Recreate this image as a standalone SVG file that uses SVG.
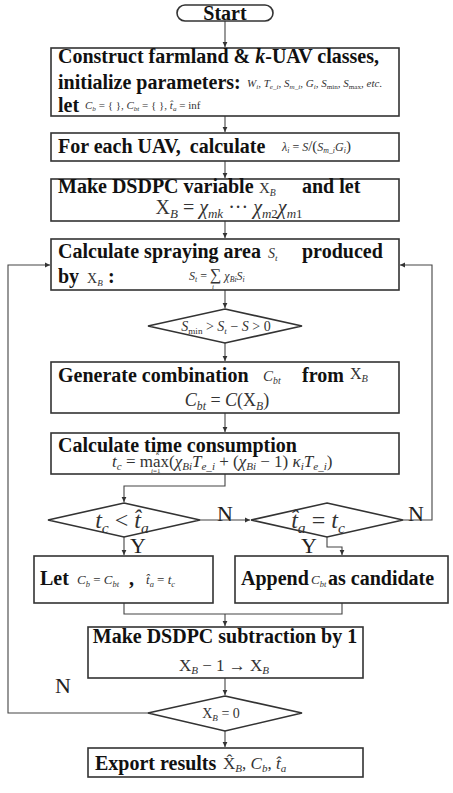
<svg xmlns="http://www.w3.org/2000/svg" width="453" height="793" viewBox="0 0 453 793">
<defs>
<marker id="ah" markerWidth="6" markerHeight="6" refX="5" refY="3" orient="auto" markerUnits="userSpaceOnUse"><path d="M0,0.6 L5,3 L0,5.4 Z" fill="#333"/></marker>
<style>
.box{fill:#fff;stroke:#333;stroke-width:1.6}
.ln{fill:none;stroke:#444;stroke-width:1.1}
.b{font-family:"Liberation Serif","Times New Roman",serif;font-weight:bold;font-size:20px;fill:#111}
.m{font-family:"Liberation Serif","Times New Roman",serif;font-style:italic;fill:#333}
.u{font-style:normal}
.s{font-size:65%;baseline-shift:-0.3em}
.yn{font-family:"Liberation Serif","Times New Roman",serif;font-size:22px;fill:#222}
</style>
</defs>
<rect width="453" height="793" fill="#fff"/>

<g id="connectors">
<path class="ln" d="M225,21 V47" marker-end="url(#ah)"/>
<path class="ln" d="M225,116 V132" marker-end="url(#ah)"/>
<path class="ln" d="M225,161 V178" marker-end="url(#ah)"/>
<path class="ln" d="M225,221 V238" marker-end="url(#ah)"/>
<path class="ln" d="M225,290 V308" marker-end="url(#ah)"/>
<path class="ln" d="M225,343 V361" marker-end="url(#ah)"/>
<path class="ln" d="M225,413 V432" marker-end="url(#ah)"/>
<path class="ln" d="M225,474 V486 H124 V502" marker-end="url(#ah)"/>
<path class="ln" d="M200,520 H250" marker-end="url(#ah)"/>
<path class="ln" d="M403,520 H432 V265 H400" marker-end="url(#ah)"/>
<path class="ln" d="M124,537 V555" marker-end="url(#ah)"/>
<path class="ln" d="M327,537 V547 H342 V555" marker-end="url(#ah)"/>
<path class="ln" d="M124,603 V614 H342 V603"/>
<path class="ln" d="M225,614 V626" marker-end="url(#ah)"/>
<path class="ln" d="M225,678 V695" marker-end="url(#ah)"/>
<path class="ln" d="M149,713 H8 V265 H50" marker-end="url(#ah)"/>
<path class="ln" d="M225,731 V747" marker-end="url(#ah)"/>
<text class="yn" x="217" y="521">N</text>
<text class="yn" x="408" y="521">N</text>
<text class="yn" x="130" y="553">Y</text>
<text class="yn" x="301" y="553">Y</text>
<text class="yn" x="55" y="693">N</text>
</g>

<g id="start">
<rect class="box" x="177" y="5" width="96" height="16" rx="8"/>
<text class="b" x="225" y="19.5" text-anchor="middle">Start</text>
</g>

<g id="init">
<rect class="box" x="51" y="48" width="348" height="68"/>
<text class="b" x="58" y="63">Construct farmland &amp; <tspan font-style="italic">k</tspan>-UAV classes,</text>
<text class="b" x="58" y="89">initialize parameters:</text>
<text class="m" x="247" y="87" font-size="11">W<tspan class="s">i</tspan>, T<tspan class="s">e_i</tspan>, S<tspan class="s">m_i</tspan>, G<tspan class="s">i</tspan>, S<tspan class="s u">min</tspan>, S<tspan class="s u">max</tspan>, etc.</text>
<text class="b" x="58" y="112">let</text>
<text class="m" x="85" y="109" font-size="11">C<tspan class="s">b</tspan><tspan class="u"> = { }, </tspan>C<tspan class="s">bt</tspan><tspan class="u"> = { }, </tspan>t̂<tspan class="s">a</tspan><tspan class="u"> = inf</tspan></text>
</g>

<g id="lambda">
<rect class="box" x="51" y="133" width="348" height="28"/>
<text class="b" x="58" y="153">For each UAV, <tspan dx="4">calculate</tspan></text>
<text class="m" x="282" y="151" font-size="12">λ<tspan class="s">i</tspan><tspan class="u"> = </tspan>S<tspan class="u" font-size="15">/(</tspan>S<tspan class="s">m_i</tspan>G<tspan class="s">i</tspan><tspan class="u" font-size="15">)</tspan></text>
</g>

<g id="dsdpc">
<rect class="box" x="51" y="179" width="348" height="42"/>
<text class="b" x="58" y="193">Make DSDPC variable</text>
<text class="m" x="259" y="193" font-size="15"><tspan class="u">X</tspan><tspan class="s">B</tspan></text>
<text class="b" x="302" y="193">and let</text>
<text class="m" x="229" y="214" font-size="20" text-anchor="middle"><tspan class="u">X</tspan><tspan class="s">B</tspan><tspan class="u"> = </tspan>χ<tspan class="s">mk</tspan><tspan class="u"> ··· </tspan>χ<tspan class="s">m<tspan class="u">2</tspan></tspan>χ<tspan class="s">m<tspan class="u">1</tspan></tspan></text>
</g>

<g id="area">
<rect class="box" x="51" y="239" width="348" height="51"/>
<text class="b" x="58" y="258">Calculate spraying area</text>
<text class="m" x="268" y="258" font-size="14">S<tspan class="s">t</tspan></text>
<text class="b" x="302" y="258">produced</text>
<text class="b" x="58" y="283">by</text>
<text class="m" x="87" y="283" font-size="14"><tspan class="u">X</tspan><tspan class="s">B</tspan></text>
<text class="b" x="108" y="283">:</text>
<text class="m" x="189" y="280" font-size="12">S<tspan class="s">t</tspan><tspan class="u"> = </tspan><tspan class="u" font-size="16">∑</tspan> χ<tspan class="s">Bi</tspan>S<tspan class="s">i</tspan></text>
<text class="m" x="211" y="263" font-size="7">k</text>
<text class="m" x="212" y="289" font-size="7">i</text>
</g>

<g id="cond1">
<polygon class="box" points="225,309 302,326 225,343 148,326"/>
<text class="m" x="226" y="331" font-size="14" text-anchor="middle">S<tspan class="s u">min</tspan><tspan class="u"> &gt; </tspan>S<tspan class="s">t</tspan><tspan class="u"> − </tspan>S<tspan class="u"> &gt; 0</tspan></text>
</g>

<g id="combination">
<rect class="box" x="51" y="362" width="348" height="51"/>
<text class="b" x="58" y="382">Generate combination</text>
<text class="m" x="263" y="381" font-size="15">C<tspan class="s">bt</tspan></text>
<text class="b" x="302" y="382">from</text>
<text class="m" x="350" y="379" font-size="16"><tspan class="u">X</tspan><tspan class="s">B</tspan></text>
<text class="m" x="227" y="406" font-size="18" text-anchor="middle">C<tspan class="s">bt</tspan><tspan class="u"> = </tspan>C<tspan class="u">(X</tspan><tspan class="s">B</tspan><tspan class="u">)</tspan></text>
</g>

<g id="time">
<rect class="box" x="51" y="433" width="348" height="41"/>
<text class="b" x="58" y="452">Calculate time consumption</text>
<text class="m" x="112" y="467" font-size="17">t<tspan class="s">c</tspan><tspan class="u"> = max(</tspan>χ<tspan class="s">Bi</tspan>T<tspan class="s">e_i</tspan><tspan class="u"> + (</tspan>χ<tspan class="s">Bi</tspan><tspan class="u"> − 1) </tspan>κ<tspan class="s">i</tspan>T<tspan class="s">e_i</tspan><tspan class="u">)</tspan></text>
<text class="m" x="156" y="455" font-size="7">k</text>
<text class="m" x="151" y="473" font-size="7">i<tspan class="u">=1</tspan></text>
</g>

<g id="cond2">
<polygon class="box" points="124,503 200,520 124,537 48,520"/>
<text class="m" x="122" y="528" font-size="24" text-anchor="middle">t<tspan class="s">c</tspan><tspan class="u"> &lt; </tspan>t̂<tspan class="s">a</tspan></text>
</g>

<g id="cond3">
<polygon class="box" points="327,503 403,520 327,537 251,520"/>
<text class="m" x="318" y="528" font-size="24" text-anchor="middle">t̂<tspan class="s">a</tspan><tspan class="u"> = </tspan>t<tspan class="s">c</tspan></text>
</g>

<g id="update">
<rect class="box" x="34" y="556" width="179" height="47"/>
<text class="b" x="40" y="585">Let</text>
<text class="m" x="77" y="584" font-size="13">C<tspan class="s">b</tspan><tspan class="u"> = </tspan>C<tspan class="s">bt</tspan></text>
<text class="b" x="129" y="585">,</text>
<text class="m" x="146" y="584" font-size="13">t̂<tspan class="s">a</tspan><tspan class="u"> = </tspan>t<tspan class="s">c</tspan></text>
</g>

<g id="append">
<rect class="box" x="235" y="556" width="213" height="47"/>
<text class="b" x="241" y="585">Append</text>
<text class="m" x="311" y="584" font-size="13">C<tspan class="s">bt</tspan></text>
<text class="b" x="328" y="585">as candidate</text>
</g>

<g id="subtract">
<rect class="box" x="88" y="627" width="275" height="51"/>
<text class="b" x="225" y="643" text-anchor="middle">Make DSDPC subtraction by 1</text>
<text class="m" x="224" y="671" font-size="17" text-anchor="middle"><tspan class="u">X</tspan><tspan class="s">B</tspan><tspan class="u"> − 1 → X</tspan><tspan class="s">B</tspan></text>
</g>

<g id="cond4">
<polygon class="box" points="225,696 302,713 225,731 148,713"/>
<text class="m" x="221" y="718" font-size="14" text-anchor="middle"><tspan class="u">X</tspan><tspan class="s">B</tspan><tspan class="u"> = 0</tspan></text>
</g>

<g id="export">
<rect class="box" x="88" y="748" width="275" height="29"/>
<text class="b" x="95" y="770">Export results</text>
<text class="m" x="223" y="769" font-size="17"><tspan class="u">X̂</tspan><tspan class="s">B</tspan><tspan class="u">, </tspan>C<tspan class="s">b</tspan><tspan class="u">, </tspan>t̂<tspan class="s">a</tspan></text>
</g>
</svg>
